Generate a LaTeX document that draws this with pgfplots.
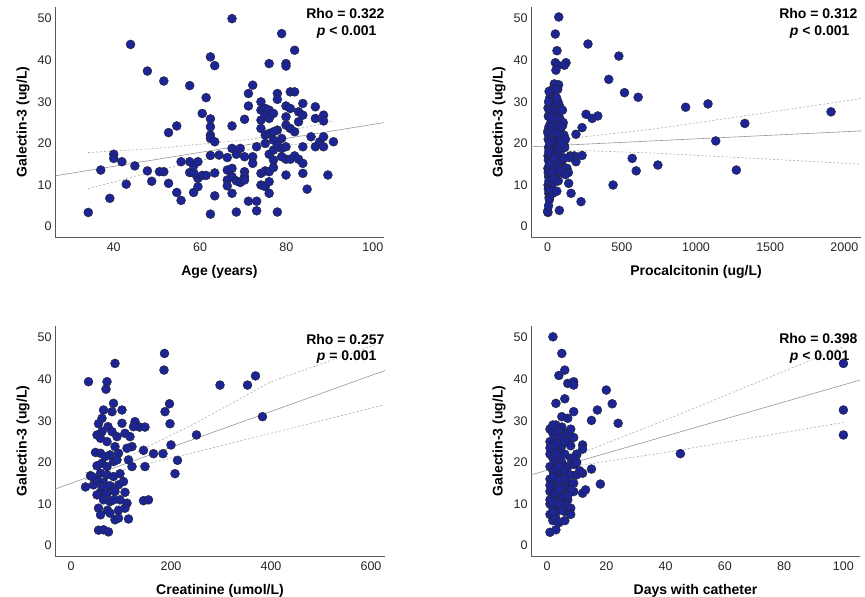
\documentclass[border=0pt]{standalone}
\usepackage{pgfplots}
\pgfplotsset{compat=1.18}
\usepackage{fontspec}
\setmainfont{Liberation Sans}
\definecolor{dot}{RGB}{28,36,150}
\definecolor{fitline}{RGB}{150,150,150}
\pgfplotsset{
  panel/.style={
    scale only axis, width=329pt, height=230pt, anchor=south west,
    axis x line*=bottom, axis y line*=left,
    axis line style={-, draw=black!65, line width=0.6pt},
    major tick length=0pt,
    ymin=-2.5, ymax=52.8, ytick={0,10,...,50},
    /pgf/number format/assume math mode=true,
    /pgf/number format/1000 sep={},
    tick label style={font=\fontsize{12.5}{14}\selectfont, text=black!85},
    xticklabel style={yshift=-2pt},
    label style={font=\fontsize{14}{16}\selectfont\bfseries},
    xlabel style={at={(axis description cs:0.5,0)}, anchor=center, yshift=-35pt},
    ylabel style={at={([xshift=-32pt]axis description cs:0,0.5)}, anchor=center},
    ylabel={Galectin-3 (ug/L)},
    clip=false,
  },
  dots/.style={only marks, mark=*, mark size=4.5pt, mark options={fill=dot, draw=black!85, line width=0.4pt}},
  fit/.style={no marks, draw=fitline, line width=0.6pt},
  ci/.style={no marks, draw=fitline!80, line width=0.6pt, dash pattern=on 2pt off 2pt},
}
\newcommand{\stat}{\fontsize{14}{16}\selectfont\bfseries}
\begin{document}
\begin{tikzpicture}
\useasboundingbox (0pt,0pt) rectangle (865pt,597pt);
% ---------- Panel 1: Age ----------
\begin{axis}[panel, at={(55pt,360pt)}, xmin=26.4, xmax=102.6, xtick={40,60,80,100}, xlabel={Age (years)}]
\addplot[fit] coordinates {(26.4,12.2) (102.6,25.0)};
\addplot[ci] coordinates {(34,17.8) (50,18.8) (72,21.0) (91,25.4)};
\addplot[ci] coordinates {(34,9.1) (50,13.5) (72,18.7) (91,20.7)};
\addplot[dots] coordinates {
(34.1,3.4) (37.0,13.6) (39.1,6.8) (40.0,17.4) (40.0,16.4) (41.9,15.6) (42.9,10.2) (43.9,43.8) (44.9,14.6)
(47.8,37.4) (47.8,13.4) (48.8,10.9) (50.6,13.2) (51.6,13.2) (51.6,35.0) (52.7,22.6) (52.7,10.4) (54.6,24.2)
(54.6,8.2) (55.6,6.3) (55.6,15.6) (57.6,33.9) (57.6,15.6) (57.6,13.0) (58.5,14.6) (58.5,8.2) (59.5,15.6)
(59.5,9.6) (59.5,11.6) (58.6,12.8) (60.5,12.3) (61.4,31.0) (60.5,27.2) (61.4,12.3) (62.4,40.8) (62.4,25.9)
(62.4,24.0) (62.4,22.0) (62.4,21.2) (62.4,17.1) (62.4,3.0) (63.4,38.7) (63.4,20.4) (63.4,12.9) (63.4,7.4)
(64.4,17.2) (66.3,16.6) (66.3,13.6) (66.3,11.2) (66.3,9.8) (67.4,50.0) (67.4,24.2) (67.4,18.8) (67.4,14.0)
(67.4,12.0) (67.4,8.0) (68.4,17.4) (68.4,11.0) (68.4,3.5) (69.3,18.8) (69.3,10.6) (70.3,25.8) (70.3,16.8)
(70.3,13.2) (70.3,12.0) (70.3,11.2) (71.2,32.0) (71.2,29.0) (71.2,6.1) (72.2,34.0) (72.2,16.8) (72.2,15.2)
(73.1,19.2) (73.1,6.1) (73.1,3.8) (74.1,30.0) (74.1,28.0) (74.1,25.6) (74.1,23.6) (74.1,12.8) (74.1,10.0)
(75.1,28.4) (75.1,26.8) (75.1,22.0) (75.1,20.0) (75.1,13.4) (75.1,9.6) (76.0,39.2) (76.0,28.0) (76.0,26.0)
(76.0,22.4) (76.0,17.4) (76.0,13.2) (76.0,10.8) (76.0,8.0) (77.0,27.2) (77.0,20.8) (77.0,18.4) (77.0,16.0)
(77.0,14.2) (77.9,32.0) (77.9,30.6) (77.9,23.2) (77.9,19.6) (77.9,3.5) (78.9,46.4) (78.9,21.2) (78.9,18.8)
(79.9,39.2) (79.9,38.6) (79.9,29.0) (79.9,26.4) (79.9,24.4) (79.9,16.2) (79.9,12.4) (80.9,32.4) (80.9,28.4)
(80.9,23.6) (80.9,16.2) (81.9,42.4) (81.9,32.4) (81.9,17.0) (82.8,27.6) (82.8,16.2) (83.8,29.6) (83.8,26.8)
(83.8,19.2) (83.8,15.2) (83.8,12.8) (84.8,9.0) (85.7,21.6) (86.7,28.8) (86.7,26.0) (86.7,19.2) (87.7,20.4)
(88.6,26.8) (88.6,25.4) (88.6,21.6) (88.6,19.2) (89.6,12.4) (90.9,20.4) (82.8,25.2) (81.9,22.8) (77.0,22.8)
(79.9,19.2) (78.9,16.8)
};
\node[anchor=east, font=\stat] at ([xshift=4pt,yshift=-6.3pt]rel axis cs:1,1) {Rho = 0.322};
\node[anchor=east, font=\stat] at ([xshift=-4pt,yshift=-24.7pt]rel axis cs:1,1) {{\itshape p} < 0.001};
\end{axis}
% ---------- Panel 2: Procalcitonin ----------
\begin{axis}[panel, at={(531pt,360pt)}, width=330pt, xmin=-112, xmax=2112, xtick={0,500,1000,1500,2000}, xlabel={Procalcitonin (ug/L)}]
\addplot[fit] coordinates {(-112,19.2) (2112,23.0)};
\addplot[ci] coordinates {(147,21.2) (700,23.4) (1400,27.0) (2112,30.8)};
\addplot[ci] coordinates {(147,18.4) (700,17.7) (1400,16.4) (2112,15.0)};
\addplot[dots] coordinates {
(75,50.4) (52,46.3) (63,42.3) (52,39.4) (124,39.4) (68,38.8) (113,38.8) (56,37.6) (45,34.3) (74,34.1)
(16,32.6) (34,33.0) (272,43.9) (480,41.0) (412,35.4) (518,32.2) (610,31.1) (259,27.0) (300,26.0) (338,26.6)
(930,28.7) (1081,29.5) (1910,27.6) (1329,24.8) (1133,20.6) (1272,13.6) (743,14.8) (570,16.4) (597,13.4)
(441,10.0) (225,6.0) (79,3.9) (2,3.4) (0,3.7) (158,8.0) (142,10.4) (124,13.0) (128,14.0) (191,15.6)
(180,17.0) (232,17.1) (232,23.8) (191,22.2) (153,17.0) (146,16.6) (97,15.8) (101,24.3) (101,20.6) (113,19.4)
(3,28.5) (5,26.5) (2,23) (4,21) (6,19) (3,17) (5,16) (2,14) (4,13) (7,12) (3,10) (5,9) (8,8) (10,7)
(12,6.5) (6,5) (2,22.5) (9,24) (11,27) (14,29) (15,31) (18,30) (20,28) (22,25) (25,23) (28,21) (30,19)
(16,18) (18,16) (20,14) (24,12) (26,11) (30,9) (34,8) (22,20) (27,17) (33,15) (38,13) (40,22) (42,26)
(45,29) (48,31) (50,28) (52,24) (55,20) (57,18) (60,16) (62,13) (65,11) (50,12) (45,14.5) (40,17.5)
(35,20.5) (32,24) (36,27) (60,27) (63,25) (66,22) (70,19) (72,17) (75,15) (78,13) (80,29) (82,26)
(85,23) (88,21) (90,18.5) (95,16) (100,13) (105,25) (110,22) (115,19) (120,21) (70,30) (75,28) (68,33)
(55,33) (60,31) (12,15) (14,20) (8,18) (9,11) (16,9) (6,30) (10,32.5) (25,26) (30,13) (35,10.5) (42,11.5)
(48,16.5) (58,22.5) (62,8.5) (72,11) (85,13.5) (92,24) (100,28) (130,14) (140,13) (120,12.5) (110,16.5) (95,20)
};
\node[anchor=east, font=\stat] at ([xshift=0pt,yshift=-6.3pt]rel axis cs:1,1) {Rho = 0.312};
\node[anchor=east, font=\stat] at ([xshift=-8pt,yshift=-24.7pt]rel axis cs:1,1) {{\itshape p} < 0.001};
\end{axis}
% ---------- Panel 3: Creatinine ----------
\begin{axis}[panel, at={(55pt,41pt)}, width=330pt, xmin=-32, xmax=628, xtick={0,200,400,600}, xlabel={Creatinine (umol/L)}]
\addplot[fit] coordinates {(-32,13.6) (628,42.1)};
\addplot[ci] coordinates {(28,17.5) (100,20.6) (250,29.5) (400,39.4) (618,48.7)};
\addplot[ci] coordinates {(28,15.8) (100,18.1) (250,22.5) (400,27.0) (625,33.8)};
\addplot[dots] coordinates {
(88,43.8) (35,39.4) (72,39.4) (70,37.6) (85,34.2) (65,32.6) (82,32.2) (102,32.6) (62,30.6) (55,29.3)
(102,29.4) (128,29.8) (137,28.5) (148,28.5) (125,28.6) (74,28.6) (82,27.4) (62,27.4) (52,26.6) (108,27.0)
(118,26.2) (92,26.2) (59,25.8) (72,25.0) (88,23.8) (122,23.8) (112,23.4) (145,22.9) (49,22.4) (59,22.2)
(78,21.8) (95,22.2) (165,22.1) (184,22.1) (115,20.6) (85,20.2) (62,19.8) (52,19.2) (72,19.0) (122,19.0)
(148,19.0) (39,16.8) (29,14.1) (45,14.6) (59,17.4) (72,17.0) (85,16.6) (98,17.3) (52,15.8) (65,15.2)
(78,14.4) (95,14.6) (59,12.8) (72,12.6) (88,13.0) (108,12.8) (52,12.2) (65,11.0) (78,10.6) (98,11.0)
(112,10.2) (55,9.0) (73,8.5) (95,8.5) (59,7.4) (88,6.2) (115,6.4) (95,6.6) (55,3.7) (65,3.8) (75,3.3)
(145,10.8) (155,11.0) (187,46.2) (186,42.2) (188,32.2) (197,34.1) (198,29.3) (200,24.2) (213,20.5)
(208,17.3) (251,26.6) (298,38.6) (353,38.6) (369,40.8) (383,31.0)
(42,16.6) (92,20.6) (105,15.4) (68,21.4) (85,11.0) (108,9.0) (78,7.8) (62,14.2)
};
\node[anchor=east, font=\stat] at ([xshift=3pt,yshift=-13pt]rel axis cs:1,1) {Rho = 0.257};
\node[anchor=east, font=\stat] at ([xshift=-5pt,yshift=-31pt]rel axis cs:1,1) {{\itshape p} = 0.001};
\end{axis}
% ---------- Panel 4: Days with catheter ----------
\begin{axis}[panel, at={(531pt,41pt)}, xmin=-5.4, xmax=105.6, xtick={0,20,...,100}, xlabel={Days with catheter}]
\addplot[fit] coordinates {(-5.4,17.0) (105.6,39.8)};
\addplot[ci] coordinates {(1,19.8) (10,21.8) (40,30.2) (100,47.8)};
\addplot[ci] coordinates {(1,17.8) (10,19.2) (40,22.4) (100,29.6)};
\addplot[dots] coordinates {
(2,50.2) (5,46.2) (6,42.2) (4,40.9) (7,39.0) (9,39.4) (9,38.6) (3,34.2) (6,35.3) (5,31.0) (9,32.2) (7,30.6)
(20,37.4) (17,32.6) (22,34.1) (15,30.1) (24,29.4) (45,22.1) (100,43.8) (100,32.6) (100,26.6) (15,18.4)
(18,14.8) (12,17.4) (12,12.6) (13,13.4) (12,24.2) (12,23.2) (10,21.8) (1,3.2) (3,3.8) (6,8.2) (2,6.6)
(1,28) (2,27) (3,26) (1,25) (2,24) (4,23) (1,22) (2,21) (3,20) (1,19) (2,18) (4,17) (1,16) (2,15) (3,14)
(1,13) (2,12) (4,11) (1,10) (2,9) (3,8) (1,7.5) (2,6) (5,28.5) (6,27) (7,25) (5,24) (6,22) (8,21) (5,20)
(7,19) (6,18) (8,17) (5,16) (7,15) (6,14) (9,13) (5,12) (7,11) (6,10) (8,9) (5,8.5) (3,29) (4,27.5)
(3,24.5) (4,21.5) (3,18.5) (4,15.5) (3,12.5) (4,10) (3,6.5) (9,26) (10,22) (9,19.5) (10,17) (9,15) (8,13.5)
(7,27) (8,24) (9,21) (10,20) (11,18) (8,28) (2,29) (1,23.5) (2,16.5) (1,11) (2,8) (4,5.5) (6,6) (7,12)
(5,26) (6,25) (3,22) (4,19) (6,16) (5,14) (4,13.5) (2,10.5) (1,14.5) (8,7.5)
};
\node[anchor=east, font=\stat] at ([xshift=1pt,yshift=-13pt]rel axis cs:1,1) {Rho = 0.398};
\node[anchor=east, font=\stat] at ([xshift=-7pt,yshift=-31pt]rel axis cs:1,1) {{\itshape p} < 0.001};
\end{axis}
\end{tikzpicture}
\end{document}
